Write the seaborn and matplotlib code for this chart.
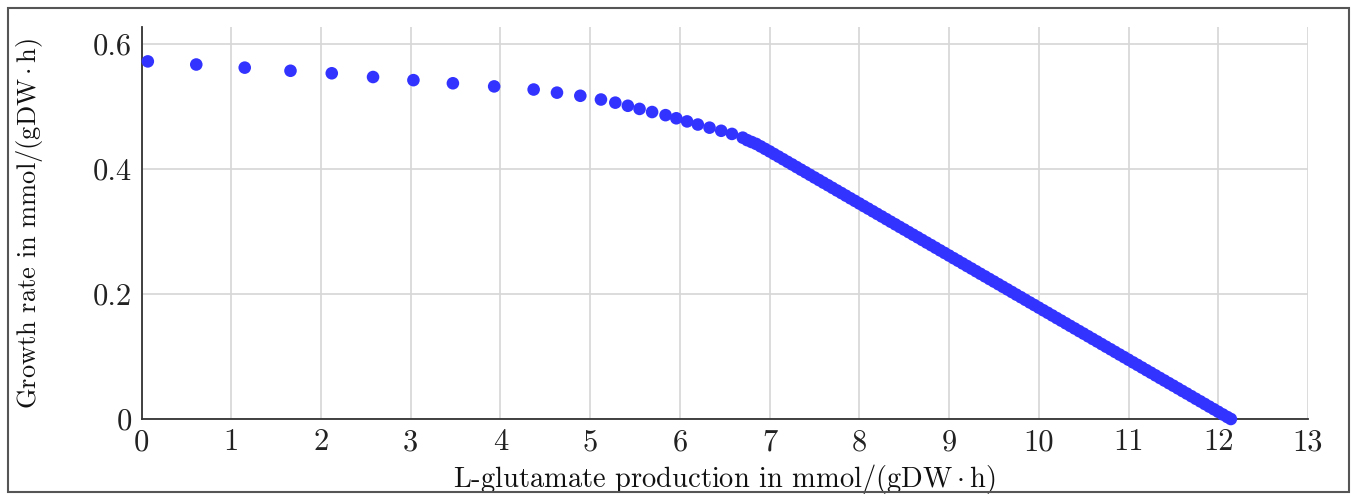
import matplotlib
matplotlib.use("Agg")
import matplotlib.pyplot as plt
import seaborn as sns
import pandas as pd
from matplotlib.patches import Rectangle

# ---- data ----
x_sparse = [0.07, 0.61, 1.15, 1.66, 2.12, 2.58, 3.03, 3.47, 3.93, 4.37, 4.63, 4.89,
            5.12, 5.28, 5.42, 5.55, 5.69, 5.84, 5.96, 6.08, 6.20, 6.33, 6.46, 6.58, 6.70]
y_sparse = [0.572, 0.567, 0.562, 0.557, 0.553, 0.547, 0.542, 0.537, 0.532, 0.527, 0.522, 0.517,
            0.511, 0.506, 0.501, 0.496, 0.491, 0.486, 0.481, 0.476, 0.471, 0.466, 0.461, 0.456, 0.450]

x_dense = [6.75, 6.80, 6.85, 6.90, 6.95,
           7.00, 7.05, 7.10, 7.15, 7.20, 7.25, 7.30, 7.35, 7.40, 7.45,
           7.50, 7.55, 7.60, 7.65, 7.70, 7.75, 7.80, 7.85, 7.90, 7.95,
           8.00, 8.05, 8.10, 8.15, 8.20, 8.25, 8.30, 8.35, 8.40, 8.45,
           8.50, 8.55, 8.60, 8.65, 8.70, 8.75, 8.80, 8.85, 8.90, 8.95,
           9.00, 9.05, 9.10, 9.15, 9.20, 9.25, 9.30, 9.35, 9.40, 9.45,
           9.50, 9.55, 9.60, 9.65, 9.70, 9.75, 9.80, 9.85, 9.90, 9.95,
           10.00, 10.05, 10.10, 10.15, 10.20, 10.25, 10.30, 10.35, 10.40, 10.45,
           10.50, 10.55, 10.60, 10.65, 10.70, 10.75, 10.80, 10.85, 10.90, 10.95,
           11.00, 11.05, 11.10, 11.15, 11.20, 11.25, 11.30, 11.35, 11.40, 11.45,
           11.50, 11.55, 11.60, 11.65, 11.70, 11.75, 11.80, 11.85, 11.90, 11.95,
           12.00, 12.05, 12.10, 12.14]
y_dense = [0.446, 0.443, 0.440, 0.436, 0.432,
           0.4280, 0.4238, 0.4197, 0.4155, 0.4113, 0.4072, 0.4030, 0.3988, 0.3947, 0.3905,
           0.3863, 0.3822, 0.3780, 0.3739, 0.3697, 0.3655, 0.3614, 0.3572, 0.3530, 0.3489,
           0.3447, 0.3405, 0.3364, 0.3322, 0.3280, 0.3239, 0.3197, 0.3155, 0.3114, 0.3072,
           0.3031, 0.2989, 0.2947, 0.2906, 0.2864, 0.2822, 0.2781, 0.2739, 0.2697, 0.2656,
           0.2614, 0.2572, 0.2531, 0.2489, 0.2447, 0.2406, 0.2364, 0.2322, 0.2281, 0.2239,
           0.2198, 0.2156, 0.2114, 0.2073, 0.2031, 0.1989, 0.1948, 0.1906, 0.1864, 0.1823,
           0.1781, 0.1739, 0.1698, 0.1656, 0.1614, 0.1573, 0.1531, 0.1489, 0.1448, 0.1406,
           0.1365, 0.1323, 0.1281, 0.1240, 0.1198, 0.1156, 0.1115, 0.1073, 0.1031, 0.0990,
           0.0948, 0.0906, 0.0865, 0.0823, 0.0781, 0.0740, 0.0698, 0.0656, 0.0615, 0.0573,
           0.0532, 0.0490, 0.0448, 0.0407, 0.0365, 0.0323, 0.0282, 0.0240, 0.0198, 0.0157,
           0.0115, 0.0073, 0.0032, 0.0000]

x_ticks = [0, 1, 2, 3, 4, 5, 6, 7, 8, 9, 10, 11, 12, 13]
x_tick_labels = ["0", "1", "2", "3", "4", "5", "6", "7", "8", "9", "10", "11", "12", "13"]
y_ticks = [0, 0.2, 0.4, 0.6]
y_tick_labels = ["0", "0.2", "0.4", "0.6"]

x_label = r"L-glutamate production in $\mathrm{mmol}/(\mathrm{gDW}\cdot\mathrm{h})$"
y_label = r"Growth rate in $\mathrm{mmol}/(\mathrm{gDW}\cdot\mathrm{h})$"

df = pd.DataFrame({"x": x_sparse + x_dense, "y": y_sparse + y_dense})

# ---- style ----
sns.set_theme(style="white")
plt.rcParams["font.family"] = ["cmr10", "DejaVu Serif"]
plt.rcParams["mathtext.fontset"] = "cm"
plt.rcParams["axes.formatter.use_mathtext"] = True

fig = plt.figure(figsize=(13.57, 5.0), dpi=100)
ax = fig.add_axes([0.1043, 0.162, 0.8596, 0.784])

sns.scatterplot(data=df, x="x", y="y", ax=ax, color="#3333ff", s=82,
                linewidth=0, edgecolor="none", zorder=3, clip_on=False)

ax.set_xlim(0, 13)
ax.set_ylim(0, 0.627)
ax.set_xticks(x_ticks)
ax.set_xticklabels(x_tick_labels)
ax.set_yticks(y_ticks)
ax.set_yticklabels(y_tick_labels)
ax.tick_params(axis="both", length=0, labelsize=22, colors="#222222", pad=7)
ax.grid(True, color="#d6d6d6", linewidth=1.2, zorder=0)
ax.set_axisbelow(True)

for side in ["top", "right"]:
    ax.spines[side].set_visible(False)
for side in ["left", "bottom"]:
    ax.spines[side].set_color("#333333")
    ax.spines[side].set_linewidth(1.3)
    ax.spines[side].set_zorder(2)

ax.set_xlabel(x_label, fontsize=20.5, color="#111111", labelpad=4)
ax.set_ylabel(y_label, fontsize=19, color="#111111", labelpad=34)

# outer frame
fig.patches.append(Rectangle((8 / 1357, 8 / 500), 1 - 16 / 1357, 1 - 16 / 500,
                             transform=fig.transFigure, fill=False,
                             edgecolor="#555555", linewidth=1.5))

fig.savefig("out.png", dpi=100)
